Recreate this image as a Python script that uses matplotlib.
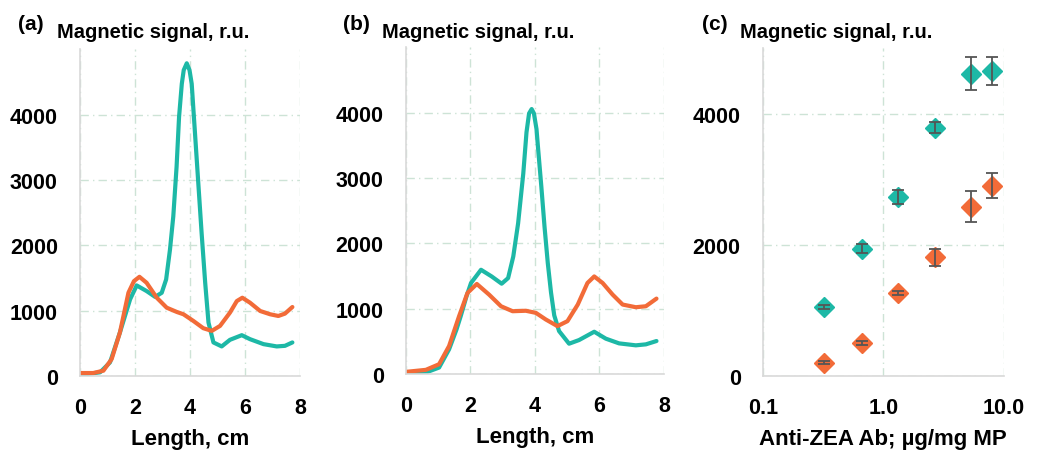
import numpy as np
import matplotlib.pyplot as plt

plt.rcParams['font.family'] = ['Liberation Sans', 'DejaVu Sans']
plt.rcParams['font.weight'] = 'bold'
plt.rcParams['axes.labelweight'] = 'bold'

teal = '#1db8a6'
orange = '#f26b38'
grid_c = '#cde3d6'

# panel (a)
xa_t = [0.0, 0.73, 1.09, 1.45, 1.82, 2.06, 2.42, 2.73, 2.97, 3.13, 3.27, 3.39, 3.51, 3.6, 3.7,
        3.77, 3.88, 3.98, 4.06, 4.18, 4.3, 4.42, 4.55, 4.67, 4.85, 5.15, 5.45, 5.88, 6.18, 6.67,
        7.15, 7.45, 7.72]
ya_t = [15, 56, 208, 665, 1172, 1385, 1299, 1210, 1273, 1476, 1933, 2440, 3200, 3962, 4470,
        4680, 4784, 4680, 4470, 3710, 2948, 2187, 1426, 817, 513, 452, 553, 624, 563, 487,
        452, 461, 513]
xa_o = [0.0, 0.48, 0.85, 1.15, 1.45, 1.76, 1.96, 2.16, 2.42, 2.79, 3.15, 3.52, 3.76, 4.12, 4.48,
        4.79, 5.09, 5.45, 5.7, 5.9, 6.18, 6.55, 6.91, 7.21, 7.45, 7.72]
ya_o = [45, 45, 81, 259, 665, 1274, 1451, 1517, 1426, 1197, 1045, 979, 944, 842, 731,
        690, 766, 969, 1146, 1197, 1121, 994, 944, 918, 954, 1055]

# panel (b)
xb_t = [0.0, 0.62, 1.03, 1.34, 1.57, 1.7, 1.88, 2.02, 2.33, 2.66, 2.97, 3.17, 3.33, 3.48, 3.64,
        3.74, 3.82, 3.9, 3.97, 4.05, 4.1, 4.2, 4.3, 4.4, 4.5, 4.6, 4.75, 5.06, 5.37, 5.84, 6.2,
        6.61, 7.13, 7.44, 7.77]
yb_t = [15, 25, 101, 380, 684, 887, 1191, 1395, 1597, 1495, 1384, 1470, 1800, 2307, 3068,
        3700, 3990, 4056, 3990, 3750, 3450, 2870, 2250, 1700, 1250, 900, 659, 466, 522, 649, 543,
        471, 441, 456, 507]
xb_o = [0.0, 0.62, 1.03, 1.34, 1.65, 1.91, 2.2, 2.58, 2.95, 3.31, 3.72, 4.03, 4.34, 4.7, 5.01,
        5.33, 5.63, 5.84, 6.1, 6.41, 6.72, 7.13, 7.44, 7.77]
yb_o = [35, 66, 152, 430, 887, 1242, 1380, 1217, 1039, 963, 970, 938, 836, 735, 811,
        1065, 1395, 1495, 1395, 1217, 1065, 1024, 1039, 1156]

# panel (c)
conc = [0.32, 0.667, 1.333, 2.667, 5.333, 8.0]
sig_t = [1055, 1940, 2730, 3790, 4615, 4650]
err_t = [30, 70, 100, 90, 250, 215]
sig_o = [205, 505, 1265, 1810, 2585, 2905]
err_o = [30, 30, 30, 125, 230, 190]

fig = plt.figure(figsize=(10.38, 4.52), dpi=100)
ax_a = fig.add_axes([0.0771, 0.166, 0.212, 0.723])
ax_b = fig.add_axes([0.391, 0.170, 0.2486, 0.723])
ax_c = fig.add_axes([0.735, 0.166, 0.232, 0.725])


def style(ax):
    for s in ['top', 'right']:
        ax.spines[s].set_visible(False)
    for s in ['left', 'bottom']:
        ax.spines[s].set_color('#d9d9d9')
        ax.spines[s].set_linewidth(1.2)
    ax.tick_params(length=0, labelsize=15.5)
    ax.tick_params(axis='y', pad=16)
    ax.tick_params(axis='x', pad=15)
    ax.grid(True, color=grid_c, linestyle=(0, (6, 3, 1, 3)), linewidth=1.0)
    ax.set_axisbelow(True)
    ax.set_ylim(0, 5000)


for ax, xt, yt, xo, yo in [(ax_a, xa_t, ya_t, xa_o, ya_o), (ax_b, xb_t, yb_t, xb_o, yb_o)]:
    style(ax)
    ax.plot(xt, yt, color=teal, lw=3, solid_capstyle='round', solid_joinstyle='round')
    ax.plot(xo, yo, color=orange, lw=3, solid_capstyle='round', solid_joinstyle='round')
    ax.set_xlim(0, 8)
    ax.set_xticks([0, 2, 4, 6, 8])
    ax.set_yticks([0, 1000, 2000, 3000, 4000])
    ax.set_xlabel('Length, cm', fontsize=16, labelpad=7)

style(ax_c)
ax_c.set_xscale('log')
ax_c.set_xlim(0.1, 10)
ax_c.set_xticks([0.1, 1, 10])
ax_c.set_xticklabels(['0.1', '1.0', '10.0'])
ax_c.minorticks_off()
ax_c.set_yticks([0, 2000, 4000])
ax_c.plot(conc, sig_t, 'D', color=teal, ms=10.5, zorder=3)
ax_c.plot(conc, sig_o, 'D', color=orange, ms=10.5, zorder=3)
ax_c.errorbar(conc, sig_t, yerr=err_t, fmt='none', ecolor='#555555', elinewidth=1.3, capsize=4, capthick=1.3, zorder=4)
ax_c.errorbar(conc, sig_o, yerr=err_o, fmt='none', ecolor='#555555', elinewidth=1.3, capsize=4, capthick=1.3, zorder=4)
ax_c.set_xlabel('Anti-ZEA Ab; µg/mg MP', fontsize=16, labelpad=7)

for lab, xl, xt in [('(a)', 18, 57), ('(b)', 343, 382), ('(c)', 702, 740)]:
    fig.text(xl / 1038, 1 - 24 / 452, lab, fontsize=15, va='center', ha='left')
    fig.text(xt / 1038, 1 - 32 / 452, 'Magnetic signal, r.u.', fontsize=14.5, va='center', ha='left')

fig.savefig('out.png', dpi=100)
